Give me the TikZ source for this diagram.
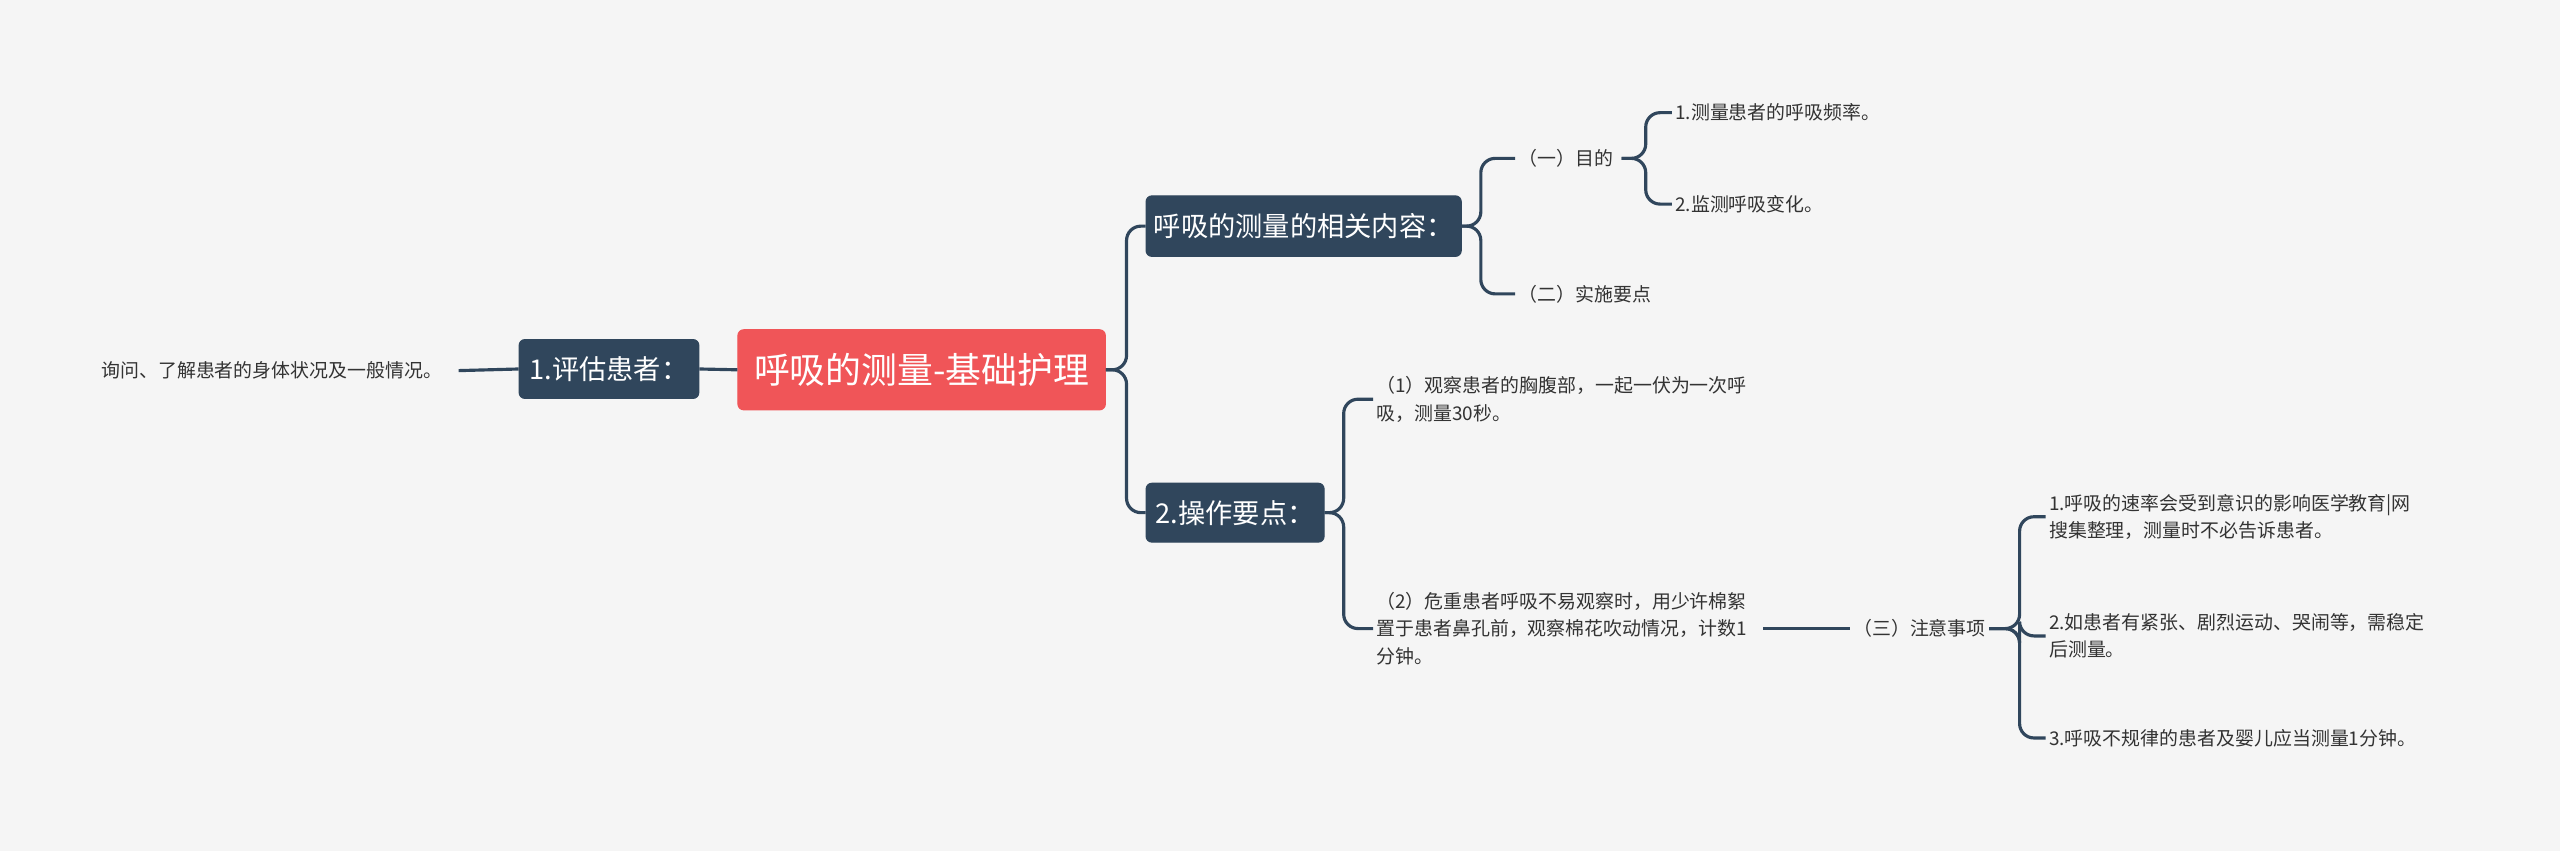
\documentclass[tikz,border=0pt]{standalone}
\usepackage{fontspec}
\newfontfamily\cjk{Noto Sans CJK SC}
\definecolor{dk}{HTML}{30465C}
\definecolor{rd}{HTML}{F05558}
\definecolor{bg}{HTML}{F5F5F5}
\definecolor{tx}{HTML}{333333}
\begin{document}
\begin{tikzpicture}[x=0.02cm,y=-0.02cm,
  box/.style={rounded corners=2pt,fill=dk,draw=dk,text=white,font=\cjk\fontsize{9.5}{11}\selectfont,inner sep=0pt},
  leaf/.style={anchor=west,text=tx,font=\cjk\fontsize{6.6}{9.6}\selectfont,align=left,inner sep=1pt},
  ln/.style={draw=dk,line width=1.1pt,rounded corners=5pt}]
\fill[bg] (0,0) rectangle (1568,521);
\useasboundingbox (0,0) rectangle (1568,521);
\node[box,fill=rd,draw=rd,minimum width=225*0.02cm,minimum height=49*0.02cm,font=\cjk\fontsize{12.5}{14}\selectfont] (root) at (564.5,226.5) {呼吸的测量-基础护理};
\node[box,minimum width=110*0.02cm,minimum height=36*0.02cm] (l1) at (373,226) {1.评估患者：};
\node[leaf] (l1t) at (60,227) {询问、了解患者的身体状况及一般情况。};
\node[box,minimum width=193*0.02cm,minimum height=37*0.02cm] (a) at (798.5,138.5) {呼吸的测量的相关内容：};
\node[box,minimum width=109*0.02cm,minimum height=36*0.02cm] (b) at (756.5,314) {2.操作要点：};
\node[leaf] (a1) at (928,97) {（一）目的};
\node[leaf] (a2) at (928,180) {（二）实施要点};
\node[leaf] (a11) at (1024,69) {1.测量患者的呼吸频率。};
\node[leaf] (a12) at (1024,125) {2.监测呼吸变化。};
\node[leaf] (b1) at (841,244.5) {（1）观察患者的胸腹部，一起一伏为一次呼\\吸，测量30秒。};
\node[leaf] (b2) at (841,385) {（2）危重患者呼吸不易观察时，用少许棉絮\\置于患者鼻孔前，观察棉花吹动情况，计数1\\分钟。};
\node[leaf] (c) at (1133,385) {（三）注意事项};
\node[leaf] (c1) at (1253,316.5) {1.呼吸的速率会受到意识的影响医学教育|网\\搜集整理，测量时不必告诉患者。};
\node[leaf] (c2) at (1253,389.5) {2.如患者有紧张、剧烈运动、哭闹等，需稳定\\后测量。};
\node[leaf] (c3) at (1253,452) {3.呼吸不规律的患者及婴儿应当测量1分钟。};
\draw[ln] (l1.east) -- (root.west);
\draw[ln] (l1t.east) ++(8,0) coordinate (l1e) (l1e) -- (l1.west);
\draw[ln] (root.east) -- (690,226.5) |- (a.west);
\draw[ln] (root.east) -- (690,226.5) |- (b.west);
\draw[ln] (a.east) -- (907,138.5) |- (a1.west);
\draw[ln] (a.east) -- (907,138.5) |- (a2.west);
\draw[ln] (a1.east) ++(3,0) -- (1008,97) |- (a11.west);
\draw[ln] (a1.east) ++(3,0) -- (1008,97) |- (a12.west);
\draw[ln] (b.east) -- (823,314) |- (b1.west);
\draw[ln] (b.east) -- (823,314) |- (b2.west);
\draw[ln] (b2.east) ++(8,0) -- (c.west);
\draw[ln] (c.east) -- (1237,385) |- (c1.west);
\draw[ln] (c.east) -- (1237,385) |- (c2.west);
\draw[ln] (c.east) -- (1237,385) |- (c3.west);
\end{tikzpicture}
\end{document}
